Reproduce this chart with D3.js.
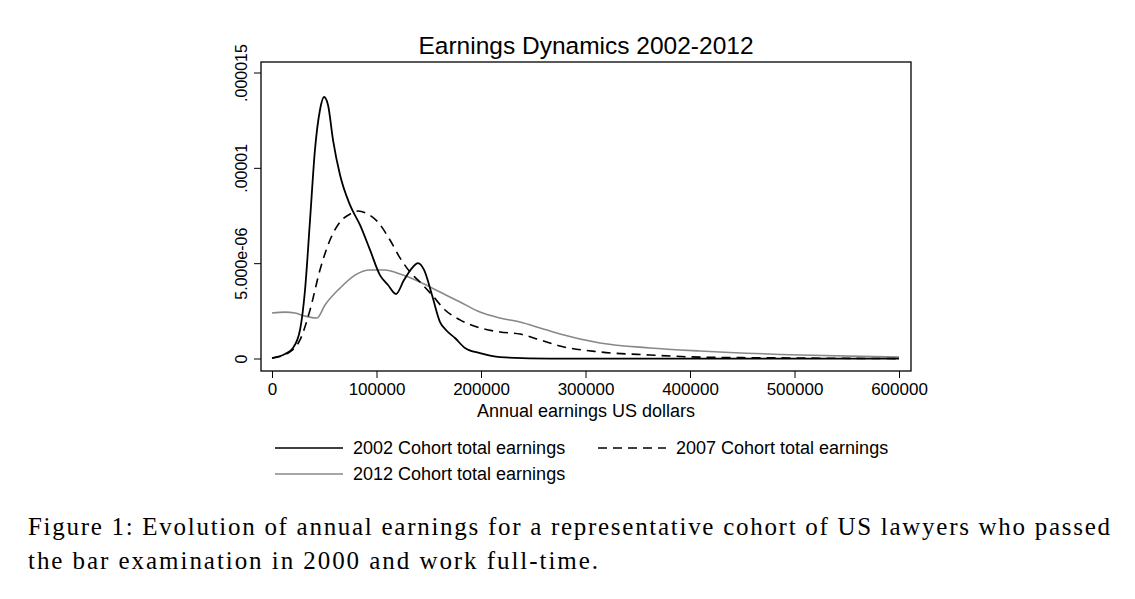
<!DOCTYPE html>
<html><head><meta charset="utf-8">
<script src="https://cdn.jsdelivr.net/npm/d3@7"></script>
<style>body{margin:0;background:#fff}</style>
</head><body>
<svg id="c" width="1135" height="599"></svg>
<script>
// values in 1e-6 density units
const x2002 = [0,12400,20100,26800,31600,36400,41100,45900,49800,53600,58400,65100,74600,84200,93800,103300,111000,118700,126300,134000,139700,145500,153100,160800,166500,175100,184700,199000,218200,266000,400000,600000];
const y2002 = [0.05,0.26,0.58,1.52,3.62,7.29,10.96,13.06,13.74,13.32,11.48,9.65,8.08,7.03,5.72,4.4,3.88,3.41,4.14,4.77,5.03,4.67,3.36,1.94,1.52,1.1,0.58,0.31,0.1,0.02,0.02,0.02];
const x2007 = [0,17200,26800,36400,45900,55500,65100,74600,82300,91900,101400,112900,122500,132100,141600,153100,165600,179900,199000,218200,237300,256500,275600,313900,361700,409600,505300,600000];
const y2007 = [0.05,0.37,1.0,2.57,4.67,6.24,7.18,7.6,7.76,7.6,7.18,6.24,5.3,4.56,4.04,3.36,2.57,2.05,1.63,1.42,1.31,1.0,0.68,0.37,0.21,0.1,0.05,0.02];
const x2012 = [0,12400,22000,31600,43100,50700,65100,79400,93800,108100,122500,141600,160800,179900,199000,218200,237300,256500,275600,313900,361700,409600,505300,600000];
const y2012 = [2.41,2.46,2.41,2.25,2.15,2.83,3.72,4.4,4.67,4.67,4.46,4.04,3.51,2.99,2.46,2.15,1.94,1.63,1.31,0.84,0.58,0.42,0.21,0.1];
const xTicks = [0,100000,200000,300000,400000,500000,600000];
const yTicks = [0,5,10,15];
const yTickLabels = ['0','5.000e-06','.00001','.000015'];

const svg = d3.select('#c');
const x = d3.scaleLinear().domain([0,600000]).range([272,899]);
const y = d3.scaleLinear().domain([0,15]).range([359,73]);
const font = 'Liberation Sans, Arial, sans-serif';

svg.append('rect').attr('x',261).attr('y',62).attr('width',650).attr('height',309)
  .attr('fill','none').attr('stroke','#000').attr('stroke-width',1.3);

svg.append('text').attr('x',586).attr('y',54).attr('text-anchor','middle')
  .attr('font-family',font).attr('font-size',24.5).text('Earnings Dynamics 2002-2012');

const xa = svg.append('g').attr('transform','translate(0,371)')
  .call(d3.axisBottom(x).tickValues(xTicks).tickFormat(d3.format('d')).tickSize(7).tickSizeOuter(0));
xa.select('.domain').remove();
xa.selectAll('text').attr('font-family',font).attr('font-size',17).attr('fill','#000').attr('dy','0.85em');

const ya = svg.append('g').attr('transform','translate(261,0)')
  .call(d3.axisLeft(y).tickValues(yTicks).tickFormat((d,i)=>yTickLabels[i]).tickSize(7).tickSizeOuter(0));
ya.select('.domain').remove();
ya.selectAll('.tick').attr('transform','translate(0,0)');
ya.selectAll('.tick line').attr('y1',d=>y(d)).attr('y2',d=>y(d));
ya.selectAll('text').attr('font-family',font).attr('font-size',16).attr('fill','#000')
  .attr('x',null).attr('dy',null).attr('y',0)
  .attr('transform',d=>`translate(-14,${y(d)}) rotate(-90)`)
  .attr('text-anchor','middle');

svg.append('text').attr('x',586).attr('y',417).attr('text-anchor','middle')
  .attr('font-family',font).attr('font-size',18).text('Annual earnings US dollars');

const line = d3.line().x(d=>x(d[0])).y(d=>y(d[1])).curve(d3.curveMonotoneX);
const series = [
  {xs:x2012, ys:y2012, color:'#888', dash:null, w:1.6},
  {xs:x2007, ys:y2007, color:'#000', dash:'9,6', w:1.6},
  {xs:x2002, ys:y2002, color:'#000', dash:null, w:1.8}
];
series.forEach(s=>{
  svg.append('path').datum(s.xs.map((v,i)=>[v,s.ys[i]])).attr('d',line)
    .attr('fill','none').attr('stroke',s.color).attr('stroke-width',s.w)
    .attr('stroke-dasharray',s.dash);
});

const legend = [
  {x:275,y:448,color:'#000',dash:null,label:'2002 Cohort total earnings'},
  {x:598,y:448,color:'#000',dash:'9,6',label:'2007 Cohort total earnings'},
  {x:275,y:474,color:'#888',dash:null,label:'2012 Cohort total earnings'}
];
legend.forEach(l=>{
  svg.append('line').attr('x1',l.x).attr('x2',l.x+68).attr('y1',l.y).attr('y2',l.y)
    .attr('stroke',l.color).attr('stroke-width',1.6).attr('stroke-dasharray',l.dash);
  svg.append('text').attr('x',l.x+78).attr('y',l.y+6).attr('font-family',font).attr('font-size',18).text(l.label);
});

const cap = svg.append('text').attr('font-family','Liberation Serif, DejaVu Serif, serif').attr('font-size',25);
cap.append('tspan').attr('x',28).attr('y',535).attr('textLength',1082).attr('lengthAdjust','spacing')
  .text('Figure 1: Evolution of annual earnings for a representative cohort of US lawyers who passed');
cap.append('tspan').attr('x',28).attr('y',569).attr('textLength',570).attr('lengthAdjust','spacing')
  .text('the bar examination in 2000 and work full-time.');
</script>
</body></html>
